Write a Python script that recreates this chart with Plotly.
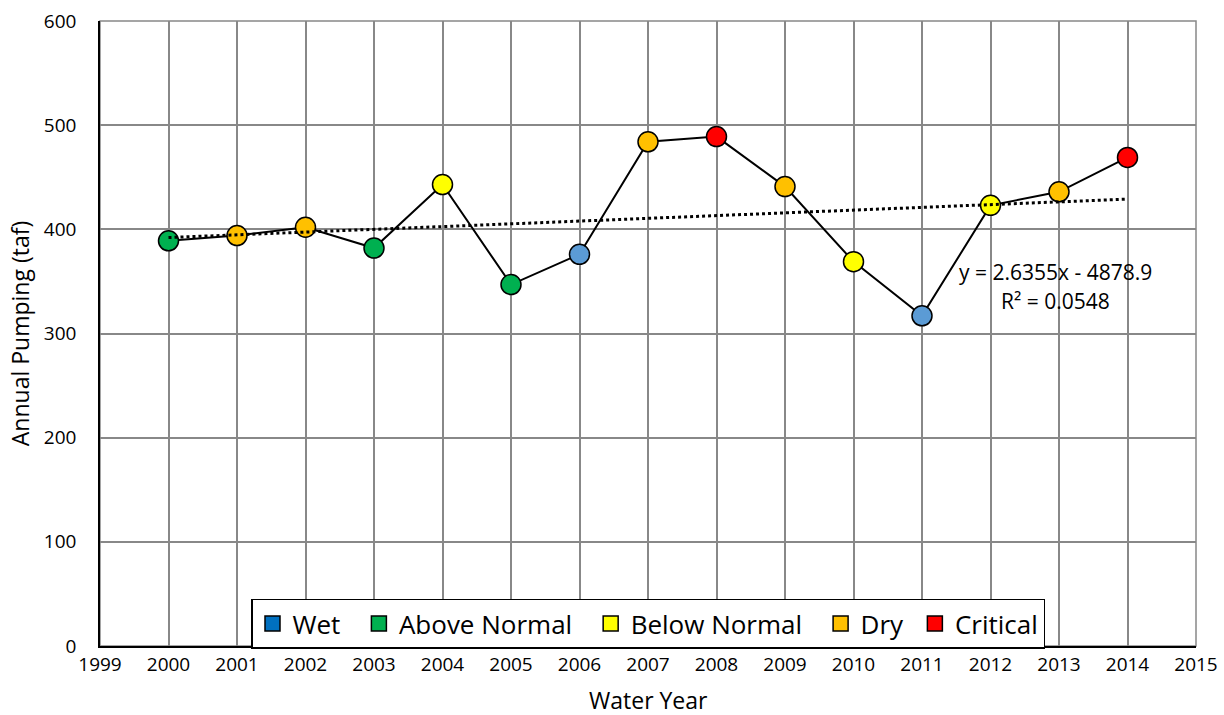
import plotly.graph_objects as go

years = list(range(2000, 2015))
pumping = [389, 394, 402, 382, 443, 347, 376, 484, 489, 441, 369, 317, 423, 436, 469]
year_type = ["Above Normal", "Dry", "Dry", "Above Normal", "Below Normal", "Above Normal", "Wet",
             "Dry", "Critical", "Dry", "Below Normal", "Wet", "Below Normal", "Dry", "Critical"]
type_names = ["Wet", "Above Normal", "Below Normal", "Dry", "Critical"]
type_colors = ["#5B9BD5", "#00B050", "#FFFF00", "#FFC000", "#FF0000"]
legend_colors = ["#0070C0", "#00B050", "#FFFF00", "#FFC000", "#FF0000"]
slope = 2.6355
intercept = -4878.9
r2 = 0.0548

color_map = dict(zip(type_names, type_colors))
FONT = "Open Sans"
legend_pad = {"Wet": 2, "Above Normal": 2, "Below Normal": 2, "Dry": 1, "Critical": 0}

fig = go.Figure()
fig.add_trace(go.Scatter(
    x=years, y=pumping, mode="lines+markers",
    line=dict(color="black", width=2),
    marker=dict(size=20, color=[color_map[t] for t in year_type],
                line=dict(color="black", width=1.5)),
    showlegend=False, hoverinfo="x+y"))

trend_x = [years[0], years[-1]]
trend_y = [slope * x + intercept for x in trend_x]
fig.add_trace(go.Scatter(x=trend_x, y=trend_y, mode="lines",
                         line=dict(color="black", width=3, dash="dot"),
                         showlegend=False, hoverinfo="skip"))

for name, col in zip(type_names, legend_colors):
    fig.add_trace(go.Scatter(x=[None], y=[None], mode="markers",
                             name=name + "\u00a0" * legend_pad[name],
                             marker=dict(symbol="square", size=15, color=col,
                                         line=dict(color="black", width=1.5))))

fig.add_annotation(x=2012.95, y=359, text=f"y = {slope}x - {abs(intercept)}",
                   showarrow=False, font=dict(family=FONT, size=21, color="black"))
fig.add_annotation(x=2012.95, y=331, text=f"R² = {r2}",
                   showarrow=False, font=dict(family=FONT, size=21, color="black"))

W, H = 1224, 715
ML, MR, MT, MB = 100, 28, 21, 69
plot_h = H - MT - MB
# x-axis title as bottom-anchored text at the figure's lower edge
fig.add_annotation(xref="paper", yref="paper", x=0.5, y=-MB / plot_h,
                   xanchor="center", yanchor="bottom", showarrow=False, yshift=-3,
                   text="Water Year", font=dict(family=FONT, size=23, color="black"))

fig.update_layout(
    width=W, height=H,
    margin=dict(l=ML, r=MR, t=MT, b=MB),
    paper_bgcolor="white", plot_bgcolor="white",
    font=dict(family=FONT, color="black"),
    legend=dict(orientation="h", x=0.5, xanchor="center", y=-0.004, yanchor="bottom",
                bgcolor="white", bordercolor="black", borderwidth=1.5,
                font=dict(family=FONT, size=26), itemsizing="trace",
                tracegroupgap=0, itemwidth=30),
)
fig.update_xaxes(range=[1999, 2015], tickmode="linear", dtick=1, tick0=1999,
                 showgrid=True, gridcolor="#888888", gridwidth=1.5,
                 showline=True, linecolor="black", linewidth=1.5,
                 ticks="", tickfont=dict(size=19), zeroline=False, automargin=False,
                 ticklabelstandoff=0, ticklabeloverflow="allow")
fig.update_yaxes(range=[0, 600], dtick=100,
                 showgrid=True, gridcolor="#888888", gridwidth=1.5,
                 showline=True, linecolor="black", linewidth=1.5,
                 ticks="", tickfont=dict(size=19), zeroline=False, automargin=False,
                 ticklabelstandoff=18, ticklabeloverflow="allow",
                 title=dict(text="Annual Pumping (taf)", font=dict(size=23), standoff=8))
fig.add_shape(type="rect", xref="paper", yref="paper", x0=0, x1=1, y0=0, y1=1,
              line=dict(color="#888888", width=1.5), layer="below")

fig.write_html("out.html", config={"displayModeBar": False},
               post_script="document.body.style.margin='0px';document.body.style.overflow='hidden';")
